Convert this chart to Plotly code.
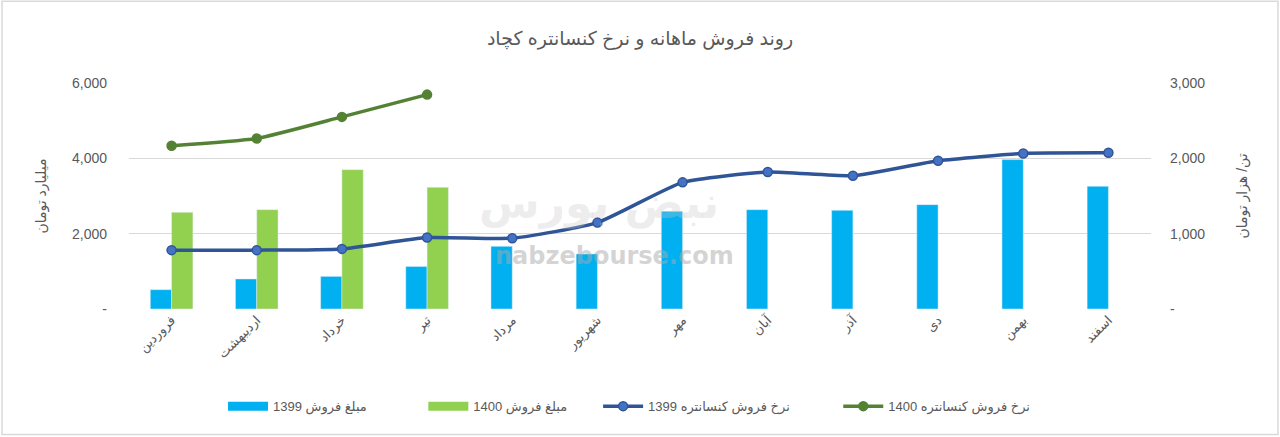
import plotly.graph_objects as go

months = ["فروردین", "اردیبهشت", "خرداد", "تیر", "مرداد", "شهریور",
          "مهر", "آبان", "آذر", "دی", "بهمن", "اسفند"]
sales_1399 = [513, 797, 866, 1131, 1663, 1461, 2592, 2637, 2619, 2770, 3966, 3257]
sales_1400 = [2566, 2637, 3700, 3230, None, None, None, None, None, None, None, None]
rate_1399 = [781, 781, 798, 948, 940, 1147, 1681, 1818, 1769, 1967, 2065, 2073]
rate_1400 = [2166, 2264, 2550, 2846, None, None, None, None, None, None, None, None]

left_ticks = [0, 2000, 4000, 6000]
left_ticktext = ["-", "2,000", "4,000", "6,000"]
right_ticks = [0, 1000, 2000, 3000]
right_ticktext = ["-", "1,000", "2,000", "3,000"]

gray = "#595959"
font_family = "Liberation Sans, DejaVu Sans, sans-serif"
blue_bar, green_bar = "#00B0F0", "#92D050"
blue_line, blue_marker, green_line = "#2F5597", "#4472C4", "#548235"

fig = go.Figure()
fig.add_trace(go.Bar(x=months, y=sales_1399, name="مبلغ فروش 1399",
                     marker=dict(color=blue_bar), showlegend=False))
fig.add_trace(go.Bar(x=months, y=sales_1400, name="مبلغ فروش 1400",
                     marker=dict(color=green_bar), showlegend=False))
fig.add_trace(go.Scatter(x=months, y=rate_1399, name="نرخ فروش کنسانتره 1399",
                         yaxis="y2", mode="lines+markers", showlegend=False,
                         line=dict(color=blue_line, width=3.5, shape="spline", smoothing=0.5),
                         marker=dict(size=9, color=blue_marker, line=dict(color=blue_line, width=1.5))))
fig.add_trace(go.Scatter(x=months, y=rate_1400, name="نرخ فروش کنسانتره 1400",
                         yaxis="y2", mode="lines+markers", showlegend=False,
                         line=dict(color=green_line, width=3.5, shape="spline", smoothing=0.5),
                         marker=dict(size=9, color=green_line, line=dict(color=green_line, width=1.5))))

# legend entries (Excel-style wide swatches), each in its own legend box
fig.add_trace(go.Scatter(x=[None], y=[None], mode="lines", name="مبلغ فروش 1399",
                         line=dict(color=blue_bar, width=9), legend="legend"))
fig.add_trace(go.Scatter(x=[None], y=[None], mode="lines", name="مبلغ فروش 1400",
                         line=dict(color=green_bar, width=9), legend="legend2"))
fig.add_trace(go.Scatter(x=[None], y=[None], mode="lines+markers", name="نرخ فروش کنسانتره 1399",
                         line=dict(color=blue_line, width=3.5), legend="legend3",
                         marker=dict(size=9, color=blue_marker, line=dict(color=blue_line, width=1.5))))
fig.add_trace(go.Scatter(x=[None], y=[None], mode="lines+markers", name="نرخ فروش کنسانتره 1400",
                         line=dict(color=green_line, width=3.5), legend="legend4",
                         marker=dict(size=9, color=green_line, line=dict(color=green_line, width=1.5))))

def legend_box(xpos):
    return dict(orientation="h", x=xpos, xanchor="left", y=-0.43, yanchor="middle",
                font=dict(size=13, color=gray), itemwidth=40, bgcolor="rgba(0,0,0,0)")

fig.update_layout(
    width=1280, height=437,
    margin=dict(l=129, r=129, t=83, b=128, autoexpand=False),
    paper_bgcolor="white", plot_bgcolor="white",
    font=dict(family=font_family, color=gray, size=13),
    title=dict(text="روند فروش ماهانه و نرخ کنسانتره کچاد", x=0.5, xanchor="center",
               y=1 - 38 / 437, yanchor="middle",
               font=dict(size=19, color=gray, family=font_family)),
    barmode="group", bargap=0.5, bargroupgap=0,
    showlegend=True,
    legend=legend_box(0.092),
    legend2=legend_box(0.288),
    legend3=legend_box(0.459),
    legend4=legend_box(0.694),
    xaxis=dict(range=[-0.5, len(months) - 0.5], tickangle=-45,
               tickfont=dict(size=13, color=gray), showgrid=False,
               showline=False, ticks="", zeroline=False, automargin=False),
    yaxis=dict(range=[0, 6000], tickvals=left_ticks, ticktext=left_ticktext,
               tickfont=dict(size=14, color=gray), showgrid=True, gridcolor="#D9D9D9",
               gridwidth=1, zeroline=False, ticks="", ticklabelstandoff=21, automargin=False,
               title=dict(text="میلیارد تومان", font=dict(size=14, color=gray), standoff=22)),
    yaxis2=dict(range=[0, 3000], tickvals=right_ticks, ticktext=right_ticktext,
                overlaying="y", side="right", showgrid=False, zeroline=False, ticks="",
                tickfont=dict(size=14, color=gray), ticklabelstandoff=18, automargin=False,
                title=dict(text="تن/ هزار تومان", font=dict(size=14, color=gray), standoff=32)),
)

# watermark
fig.add_annotation(text="<b>nabzebourse.com</b>", xref="paper", yref="paper", x=0.475, y=0.165,
                   showarrow=False, font=dict(size=24, color="rgba(170,170,170,0.5)",
                                              family="DejaVu Sans, sans-serif"))
fig.add_annotation(text="<b>نبض بورس</b>", xref="paper", yref="paper", x=0.46, y=0.47,
                   showarrow=False, font=dict(size=44, color="rgba(200,200,200,0.33)",
                                              family="DejaVu Sans, sans-serif"))

# chart border
fig.add_shape(type="rect", xref="paper", yref="paper",
              x0=-127 / 1022, x1=1 + 127 / 1022, y0=-126 / 227, y1=1 + 82 / 227,
              line=dict(color="#D9D9D9", width=1.5), fillcolor="rgba(0,0,0,0)", layer="below")

fig.write_html("out.html", config={"displayModeBar": False},
               post_script="document.body.style.margin='0';")
